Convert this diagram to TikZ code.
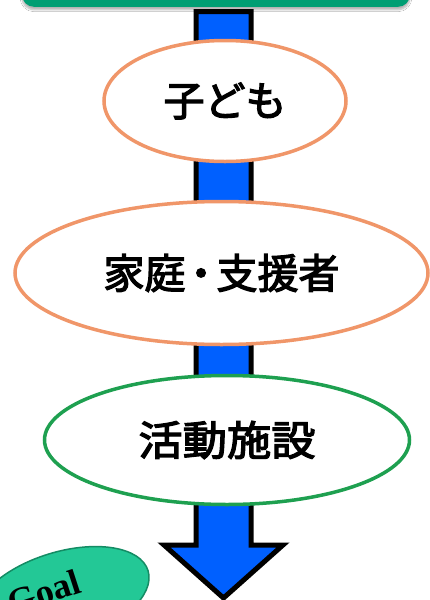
\documentclass[tikz,border=0pt]{standalone}
\usepackage{fontspec}
\setmainfont{Liberation Serif}
\newfontfamily\jp[FakeBold=3]{Noto Sans CJK JP}
\usetikzlibrary{shapes.geometric,shadows.blur}
\definecolor{topgreen}{RGB}{0,158,115}
\definecolor{arrowblue}{RGB}{0,96,255}
\definecolor{ora}{RGB}{240,150,105}
\definecolor{grn}{RGB}{30,160,80}
\definecolor{goalfill}{RGB}{35,200,150}
\definecolor{goaldraw}{RGB}{20,140,100}
\tikzset{
  oval/.style={ellipse, fill=white, line width=3.5pt, inner sep=0pt,
    font=\jp\fontsize{41}{46}\selectfont},
  topbar/.style={rectangle, rounded corners=12pt, fill=topgreen, inner sep=0pt,
    blur shadow={shadow xshift=0pt, shadow yshift=-3pt, shadow blur steps=6, shadow opacity=30}},
  arrowbody/.style={fill=arrowblue, draw=black, line width=5pt, line join=miter},
  goalshape/.style={ellipse, fill=goalfill, draw=goaldraw, line width=1.5pt, inner sep=0pt},
  goaltext/.style={font=\bfseries\fontsize{36}{40}\selectfont, inner sep=0pt}
}
\begin{document}
\begin{tikzpicture}[x=1pt,y=-1pt]
\useasboundingbox (0,0) rectangle (429,600);
\fill[white] (0,0) rectangle (429,600);
\node[topbar, minimum width=388pt, minimum height=60pt, anchor=south] (bar) at (216,7) {};
\draw[arrowbody] (196,11.5) -- (251,11.5) -- (251,545) -- (283,545) -- (223.5,598) -- (164,545) -- (196,545) -- cycle;
\node[oval, draw=ora, minimum width=242pt, minimum height=121pt] (kodomo) at (225,101) {子ども};
\node[oval, draw=ora, minimum width=413pt, minimum height=143pt] (katei) at (221.5,273) {家庭\kern-5pt・\kern-5pt支援者};
\node[oval, draw=grn, minimum width=365pt, minimum height=129pt] (shisetsu) at (227,440) {\scalebox{1.08}[1]{活動施設}};
\node[goalshape, rotate=17, minimum width=180pt, minimum height=90pt] (goal) at (62,597) {};
\node[goaltext, rotate=18] (goallabel) at (44,592) {Goal};
\end{tikzpicture}
\end{document}
